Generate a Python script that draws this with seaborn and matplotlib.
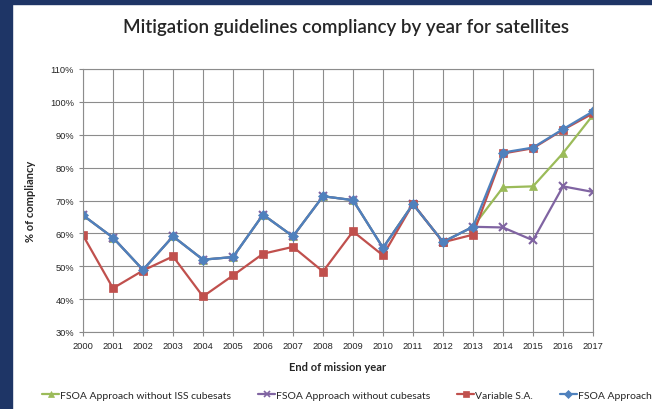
import numpy as np
import pandas as pd
import matplotlib
matplotlib.use("Agg")
import matplotlib.pyplot as plt
import matplotlib.patches as mpatches
import matplotlib.lines as mlines
from matplotlib.ticker import PercentFormatter
import seaborn as sns

years = list(range(2000, 2018))

fsoa = [65.5, 58.7, 48.9, 59.1, 52.0, 52.8, 65.7, 59.1, 71.3, 70.1,
        55.6, 68.9, 57.4, 62.0, 84.6, 86.1, 91.7, 97.1]
variable_sa = [59.4, 43.3, 48.7, 53.0, 40.8, 47.2, 53.8, 55.9, 48.4, 60.6,
               53.3, 69.0, 57.3, 59.6, 84.3, 85.9, 91.5, 96.5]
no_iss_cubesats = fsoa[:14] + [74.0, 74.3, 84.4, 96.0]
no_cubesats = fsoa[:14] + [61.8, 57.9, 74.3, 72.6]

labels = ["FSOA Approach without ISS cubesats", "FSOA Approach without cubesats",
          "Variable S.A.", "FSOA Approach"]
series = [no_iss_cubesats, no_cubesats, variable_sa, fsoa]
colors = ["#9BBB59", "#8064A2", "#C0504D", "#4F81BD"]
markers = ["^", "x", "s", "D"]
msizes = [5.5, 6, 5.5, 5]

sns.set_style("white")
plt.rcParams["font.family"] = ["Liberation Sans", "DejaVu Sans"]

fig = plt.figure(figsize=(6.52, 4.10), dpi=100)
fig.patch.set_facecolor("white")
# dark blue slide border
bg = "#1E3566"
fig.patches.append(mpatches.Rectangle((0, 0), 12 / 652, 1, transform=fig.transFigure,
                                      color=bg, zorder=0))
fig.patches.append(mpatches.Rectangle((0, 1 - 5 / 410), 1, 5 / 410, transform=fig.transFigure,
                                      color=bg, zorder=0))

ax = fig.add_axes([83 / 652, 77 / 410, 510 / 652, 263 / 410])

for lab, vals, c, m, ms in zip(labels, series, colors, markers, msizes):
    df = pd.DataFrame({"year": years, "value": vals})
    sns.lineplot(data=df, x="year", y="value", ax=ax, color=c, lw=1.6,
                 marker=m, markersize=ms, markeredgecolor=c,
                 markeredgewidth=1.5 if m == "x" else 0.5, label=lab, legend=False)

ax.set_xlim(2000, 2017)
ax.set_ylim(30, 110)
ax.set_xticks(years)
ax.set_yticks(np.arange(30, 111, 10))
ax.yaxis.set_major_formatter(PercentFormatter(decimals=0))
ax.tick_params(axis="both", labelsize=6.7, length=3, color="#888888", direction="out",
               bottom=True, left=True)
ax.grid(True, color="#8C8C8C", lw=0.8)
for s in ax.spines.values():
    s.set_color("#8C8C8C")
    s.set_linewidth(0.8)

ax.set_xlabel("End of mission year", fontsize=8, fontweight="bold", family="Lato", labelpad=8)
ax.set_ylabel("% of compliancy", fontsize=8, fontweight="bold", family="Lato", labelpad=10)

fig.text(0.53, 1 - 27 / 410, "Mitigation guidelines compliancy by year for satellites",
         ha="center", va="center", fontsize=13.5, fontweight="semibold", family="Lato")

handles = [mlines.Line2D([0], [0], color=c, marker=m, markersize=ms - 1, lw=1.6,
                         markeredgewidth=1.2 if m == "x" else 0.5)
           for c, m, ms in zip(colors, markers, msizes)]
fig.legend(handles=handles, labels=labels, loc="center left", ncol=4,
           bbox_to_anchor=(33 / 652, 1 - 396 / 410), frameon=False,
           handlelength=1.6, handletextpad=0.1, columnspacing=2.6,
           prop={"family": "Lato", "size": 7.5})

fig.savefig("out.png", dpi=100, facecolor="white")
